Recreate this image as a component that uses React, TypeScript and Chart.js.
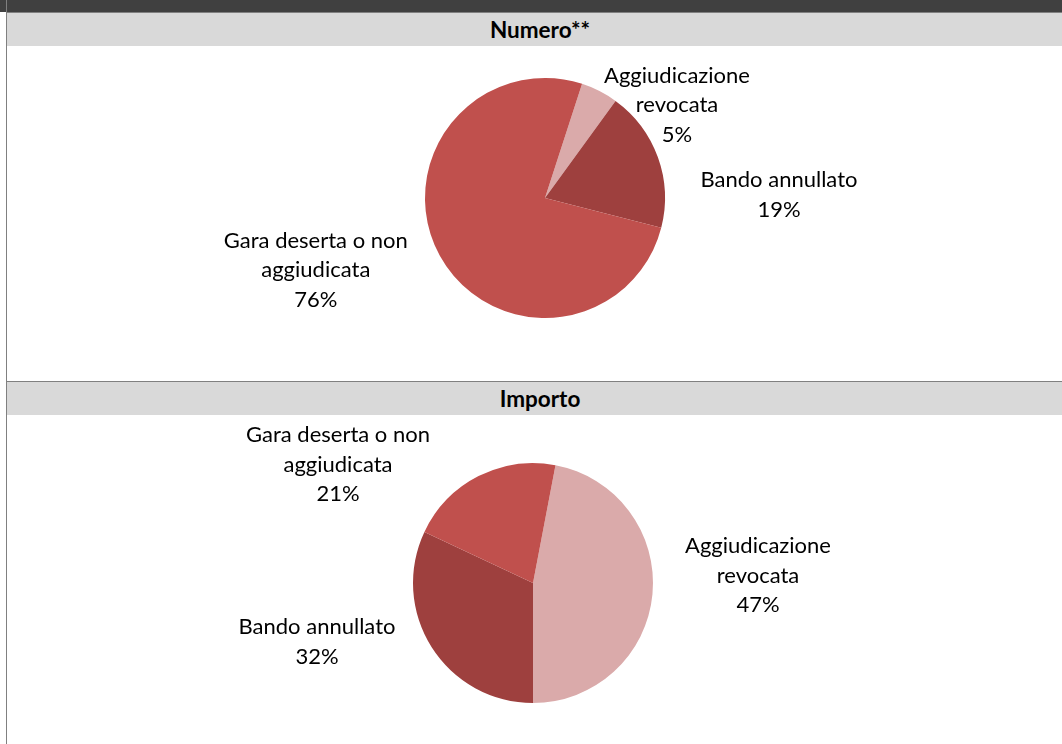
import React, { useEffect, useRef } from "react";
import { Chart, registerables } from "chart.js";

Chart.register(...registerables);

// ---- data ----
const categories = ["Aggiudicazione revocata", "Bando annullato", "Gara deserta o non aggiudicata"];
const numeroValues = [5, 19, 76];
const importoValues = [47, 32, 21];
const sliceColors = ["#DAAAAA", "#9E403E", "#C0504D"];
const panelTitles = ["Numero**", "Importo"];

// ---- layout / style constants (not data) ----
const FONT = "Lato, 'Open Sans', sans-serif";
const LABEL_SIZE = 22;
const LINE_H = 29.5;
const WRAP_W = 200;
// label block centre offsets, in units of the pie radius, per slice
const numeroLabelOffsets = [[1.1, -0.775], [1.95, -0.025], [-1.91, 0.6]];
const importoLabelOffsets = [[1.875, -0.06], [-1.8, 0.49], [-1.625, -0.985]];

function wrapText(ctx: CanvasRenderingContext2D, text: string, maxW: number): string[] {
  const words = text.split(" ");
  const lines: string[] = [];
  let cur = "";
  for (const w of words) {
    const t = cur ? cur + " " + w : w;
    if (cur && ctx.measureText(t).width > maxW) {
      lines.push(cur);
      cur = w;
    } else cur = t;
  }
  if (cur) lines.push(cur);
  return lines;
}

const labelPlugin = {
  id: "outsideLabels",
  afterDraw(chart: any) {
    const ctx: CanvasRenderingContext2D = chart.ctx;
    const offsets: number[][] = chart.options.plugins.outsideLabels.offsets;
    const ds = chart.data.datasets[0];
    const total = ds.data.reduce((a: number, b: number) => a + b, 0);
    const meta = chart.getDatasetMeta(0);
    ctx.save();
    ctx.font = `${LABEL_SIZE}px ${FONT}`;
    ctx.fillStyle = "#000000";
    ctx.textAlign = "center";
    ctx.textBaseline = "middle";
    meta.data.forEach((arc: any, i: number) => {
      const p = arc.getProps(["x", "y", "outerRadius"], true);
      const cx = p.x + offsets[i][0] * p.outerRadius;
      const cy = p.y + offsets[i][1] * p.outerRadius;
      const lines = wrapText(ctx, String(chart.data.labels[i]), WRAP_W);
      lines.push(Math.round((ds.data[i] / total) * 100) + "%");
      lines.forEach((ln, k) => {
        ctx.fillText(ln, cx, cy + (k - (lines.length - 1) / 2) * LINE_H);
      });
    });
    ctx.restore();
  },
};

function PieChart(props: {
  values: number[];
  rotation: number;
  offsets: number[][];
  padding: { left: number; right: number; top: number; bottom: number };
  width: number;
  height: number;
}) {
  const ref = useRef<HTMLCanvasElement | null>(null);
  useEffect(() => {
    if (!ref.current) return;
    const chart = new Chart(ref.current, {
      type: "pie",
      data: {
        labels: categories,
        datasets: [
          {
            data: props.values,
            backgroundColor: sliceColors,
            borderWidth: 0,
            hoverOffset: 0,
            offset: 0,
          },
        ],
      },
      options: {
        animation: false,
        responsive: false,
        maintainAspectRatio: false,
        rotation: props.rotation,
        layout: { padding: props.padding },
        plugins: {
          legend: { display: false },
          tooltip: { enabled: false },
          outsideLabels: { offsets: props.offsets },
        } as any,
        events: [],
      },
      plugins: [labelPlugin],
    });
    return () => chart.destroy();
  }, []);
  return <canvas ref={ref} width={props.width} height={props.height} style={{ display: "block", width: props.width, height: props.height }} />;
}

const headerStyle: React.CSSProperties = {
  height: 33,
  background: "#D9D9D9",
  fontFamily: FONT,
  fontWeight: 700,
  fontSize: 22.5,
  lineHeight: "33px",
  textAlign: "center",
  color: "#000",
};

export default function App() {
  useEffect(() => {
    document.body.style.margin = "0";
  }, []);
  return (
    <div style={{ position: "relative", width: 1062, height: 744, overflow: "hidden", background: "#fff" }}>
      <div style={{ position: "absolute", left: 0, top: 0, width: 1062, height: 12, background: "#404040" }} />
      <div style={{ position: "absolute", left: 6, top: 0, width: 1, height: 744, background: "#808080" }} />
      <div style={{ position: "absolute", left: 7, top: 12, width: 1066 }}>
        <div style={{ height: 1, background: "#808080" }} />
        <div style={headerStyle}>{panelTitles[0]}</div>
        <div style={{ height: 335 }}>
          <PieChart
            values={numeroValues}
            rotation={18}
            offsets={numeroLabelOffsets}
            padding={{ left: 418, right: 397, top: 32, bottom: 63 }}
            width={1055}
            height={335}
          />
        </div>
        <div style={{ height: 1, background: "#808080" }} />
        <div style={headerStyle}>{panelTitles[1]}</div>
        <div style={{ height: 330 }}>
          <PieChart
            values={importoValues}
            rotation={10.8}
            offsets={importoLabelOffsets}
            padding={{ left: 406, right: 409, top: 48, bottom: 41 }}
            width={1055}
            height={329}
          />
        </div>
      </div>
    </div>
  );
}
